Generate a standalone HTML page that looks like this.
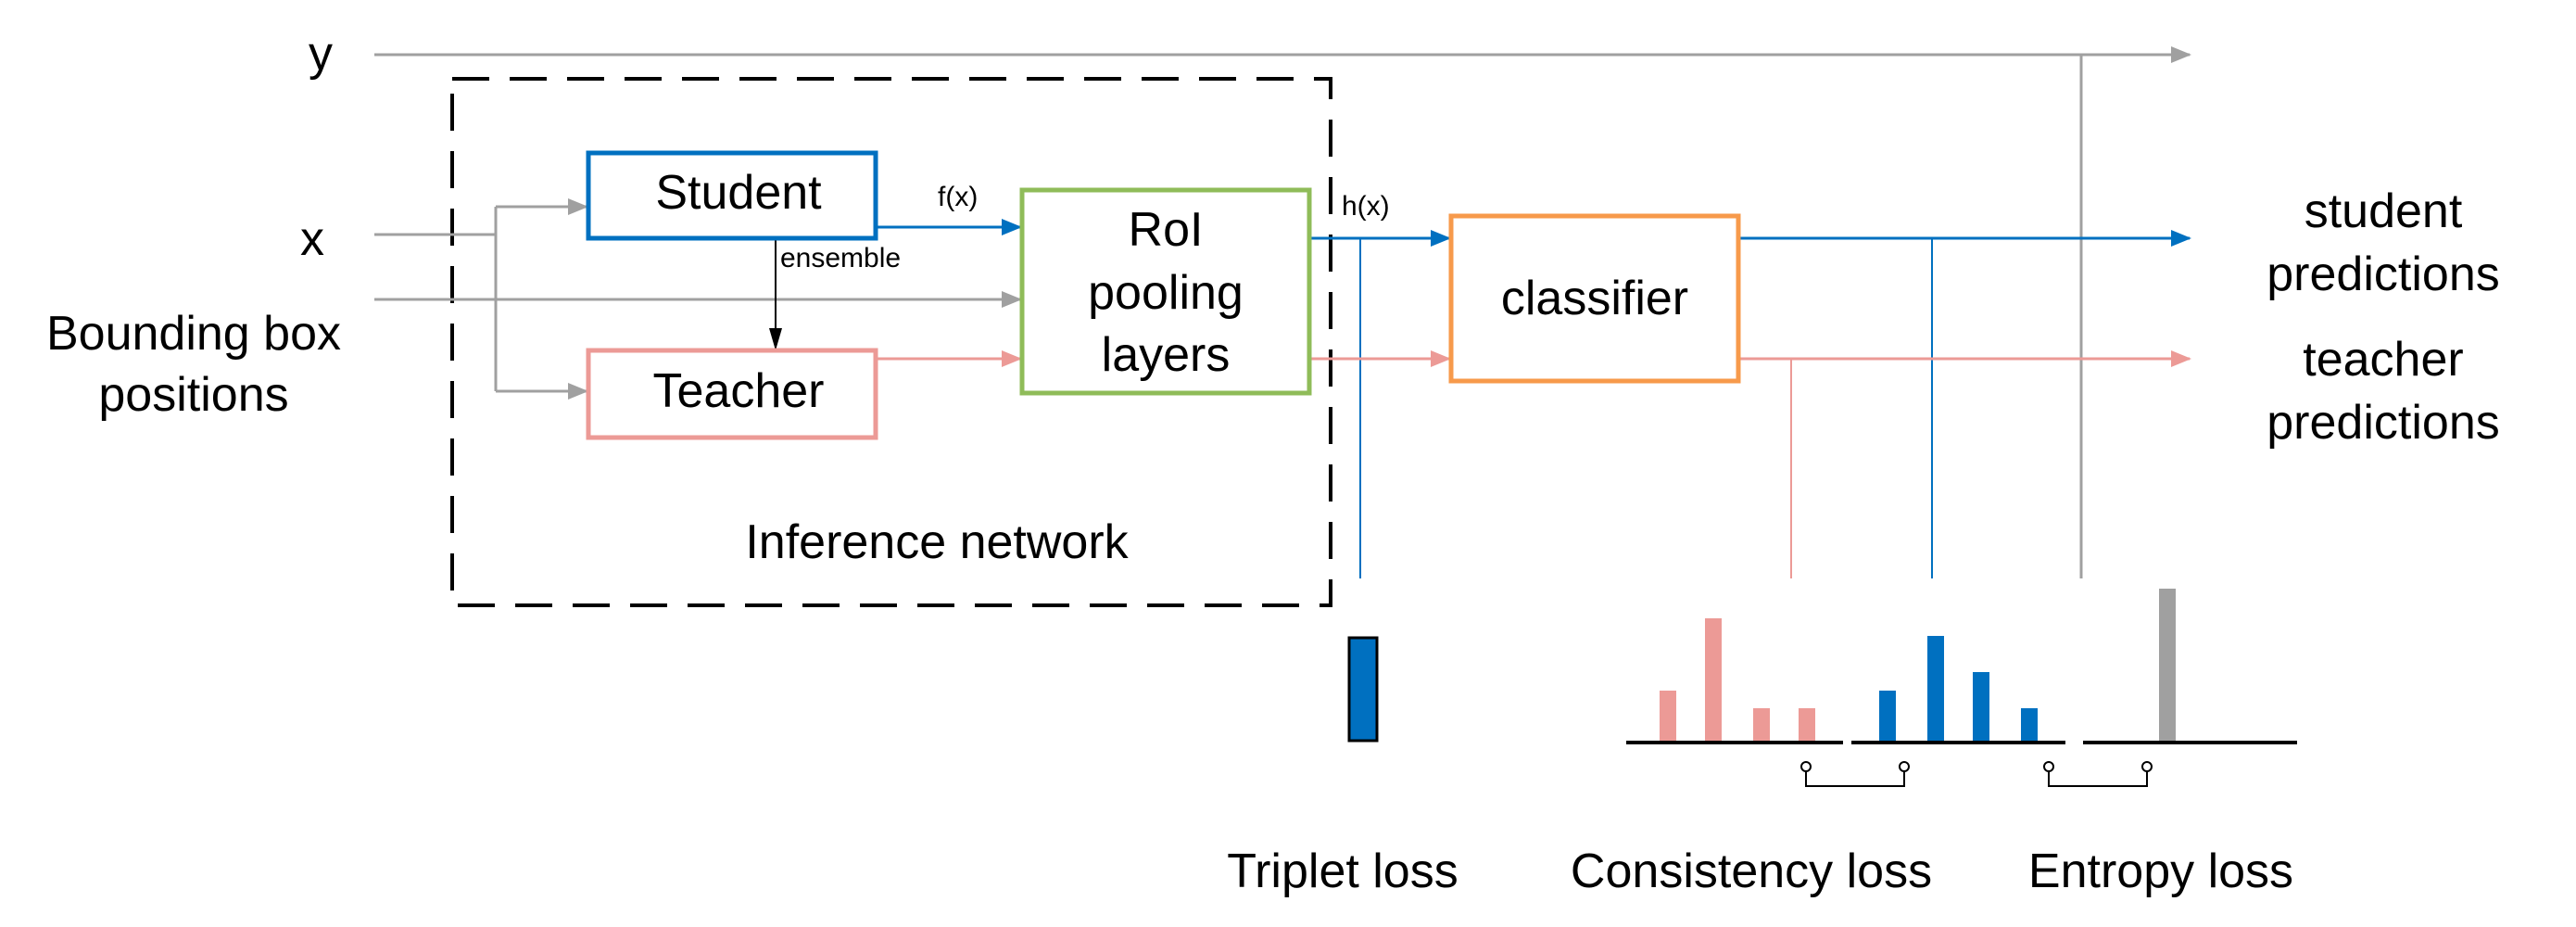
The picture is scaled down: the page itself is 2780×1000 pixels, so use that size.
<!DOCTYPE html>
<html><head><meta charset="utf-8"><style>html,body{margin:0;padding:0;background:#fff}svg{display:block}</style></head>
<body>
<svg width="2780" height="1000" viewBox="0 0 2780 1000" xmlns="http://www.w3.org/2000/svg" font-family="Liberation Sans, DejaVu Sans, sans-serif">
<defs>
<marker id="ag" markerWidth="22" markerHeight="18" refX="20" refY="9" orient="auto" markerUnits="userSpaceOnUse" viewBox="0 0 22 18"><path d="M0,0 L22,9 L0,18 z" fill="#a0a0a0"/></marker>
<marker id="ab" markerWidth="22" markerHeight="18" refX="20" refY="9" orient="auto" markerUnits="userSpaceOnUse" viewBox="0 0 22 18"><path d="M0,0 L22,9 L0,18 z" fill="#0070c0"/></marker>
<marker id="ap" markerWidth="22" markerHeight="18" refX="20" refY="9" orient="auto" markerUnits="userSpaceOnUse" viewBox="0 0 22 18"><path d="M0,0 L22,9 L0,18 z" fill="#ec9a96"/></marker>
<marker id="ak" markerWidth="24" markerHeight="14" refX="22" refY="7" orient="auto" markerUnits="userSpaceOnUse" viewBox="0 0 24 14"><path d="M0,0 L24,7 L0,14 z" fill="#000"/></marker>
</defs>
<g font-size="52" text-anchor="middle" dominant-baseline="central" fill="#000">
<text x="346" y="58">y</text>
<text x="337" y="258">x</text>
<text x="209" y="360">Bounding box</text>
<text x="209" y="426">positions</text>
<text x="1011" y="585">Inference network</text>
<text x="797" y="208">Student</text>
<text x="797" y="422">Teacher</text>
<text x="1258" y="248">RoI</text>
<text x="1258" y="316">pooling</text>
<text x="1258" y="383">layers</text>
<text x="1721" y="322">classifier</text>
<text x="2572" y="228">student</text>
<text x="2572" y="296">predictions</text>
<text x="2572" y="388">teacher</text>
<text x="2572" y="456">predictions</text>
<text x="1449" y="940">Triplet loss</text>
<text x="1890" y="940">Consistency loss</text>
<text x="2332" y="940">Entropy loss</text>
</g>
<g font-size="30" fill="#000">
<text x="1012" y="222">f(x)</text>
<text x="1448" y="232">h(x)</text>
<text x="842" y="288">ensemble</text>
</g>
<rect x="488" y="85" width="948" height="568" fill="none" stroke="#000" stroke-width="4" stroke-dasharray="40,22"/>
<g stroke="#a0a0a0" stroke-width="3" fill="none">
<line x1="404" y1="59" x2="2363" y2="59" marker-end="url(#ag)"/>
<line x1="2246" y1="59" x2="2246" y2="624"/>
<polyline points="404,253 535,253"/>
<polyline points="535,223 535,422"/>
<line x1="535" y1="223" x2="633" y2="223" marker-end="url(#ag)"/>
<line x1="535" y1="422" x2="633" y2="422" marker-end="url(#ag)"/>
<line x1="404" y1="323" x2="1101" y2="323" marker-end="url(#ag)"/>
</g>
<line x1="837" y1="257" x2="837" y2="376" stroke="#000" stroke-width="2" marker-end="url(#ak)"/>
<g stroke="#0070c0" stroke-width="3" fill="none">
<line x1="945" y1="245" x2="1101" y2="245" marker-end="url(#ab)"/>
<line x1="1413" y1="257" x2="1564" y2="257" marker-end="url(#ab)"/>
<line x1="1876" y1="257" x2="2363" y2="257" marker-end="url(#ab)"/>
<line x1="1468" y1="257" x2="1468" y2="624" stroke-width="2"/>
<line x1="2085" y1="257" x2="2085" y2="624" stroke-width="2"/>
</g>
<g stroke="#ec9a96" stroke-width="3" fill="none">
<line x1="945" y1="387" x2="1101" y2="387" marker-end="url(#ap)"/>
<line x1="1413" y1="387" x2="1564" y2="387" marker-end="url(#ap)"/>
<line x1="1876" y1="387" x2="2363" y2="387" marker-end="url(#ap)"/>
<line x1="1933" y1="387" x2="1933" y2="624" stroke-width="2"/>
</g>
<rect x="635" y="165" width="310" height="92" fill="none" stroke="#0070c0" stroke-width="5"/>
<rect x="635" y="378" width="310" height="94" fill="none" stroke="#ec9a96" stroke-width="5"/>
<rect x="1103" y="205" width="310" height="219" fill="none" stroke="#8fbc59" stroke-width="5"/>
<rect x="1566" y="233" width="310" height="178" fill="none" stroke="#f79a4b" stroke-width="5"/>
<rect x="1456" y="688" width="30" height="111" fill="#0070c0" stroke="#000" stroke-width="3"/>
<g fill="#ec9a96">
<rect x="1791" y="745" width="18" height="56"/><rect x="1840" y="667" width="18" height="134"/>
<rect x="1892" y="764" width="18" height="37"/><rect x="1941" y="764" width="18" height="37"/>
</g>
<g fill="#0070c0">
<rect x="2028" y="745" width="18" height="56"/><rect x="2080" y="686" width="18" height="115"/>
<rect x="2129" y="725" width="18" height="76"/><rect x="2181" y="764" width="18" height="37"/>
</g>
<rect x="2330" y="635" width="18" height="166" fill="#a0a0a0"/>
<g stroke="#000" stroke-width="4">
<line x1="1755" y1="801" x2="1989" y2="801"/><line x1="1998" y1="801" x2="2229" y2="801"/><line x1="2248" y1="801" x2="2479" y2="801"/>
</g>
<g stroke="#000" stroke-width="2" fill="#fff">
<polyline points="1949,831 1949,848 2055,848 2055,831" fill="none"/>
<polyline points="2211,831 2211,848 2317,848 2317,831" fill="none"/>
<circle cx="1949" cy="827" r="5"/><circle cx="2055" cy="827" r="5"/>
<circle cx="2211" cy="827" r="5"/><circle cx="2317" cy="827" r="5"/>
</g>
</svg>
</body></html>
